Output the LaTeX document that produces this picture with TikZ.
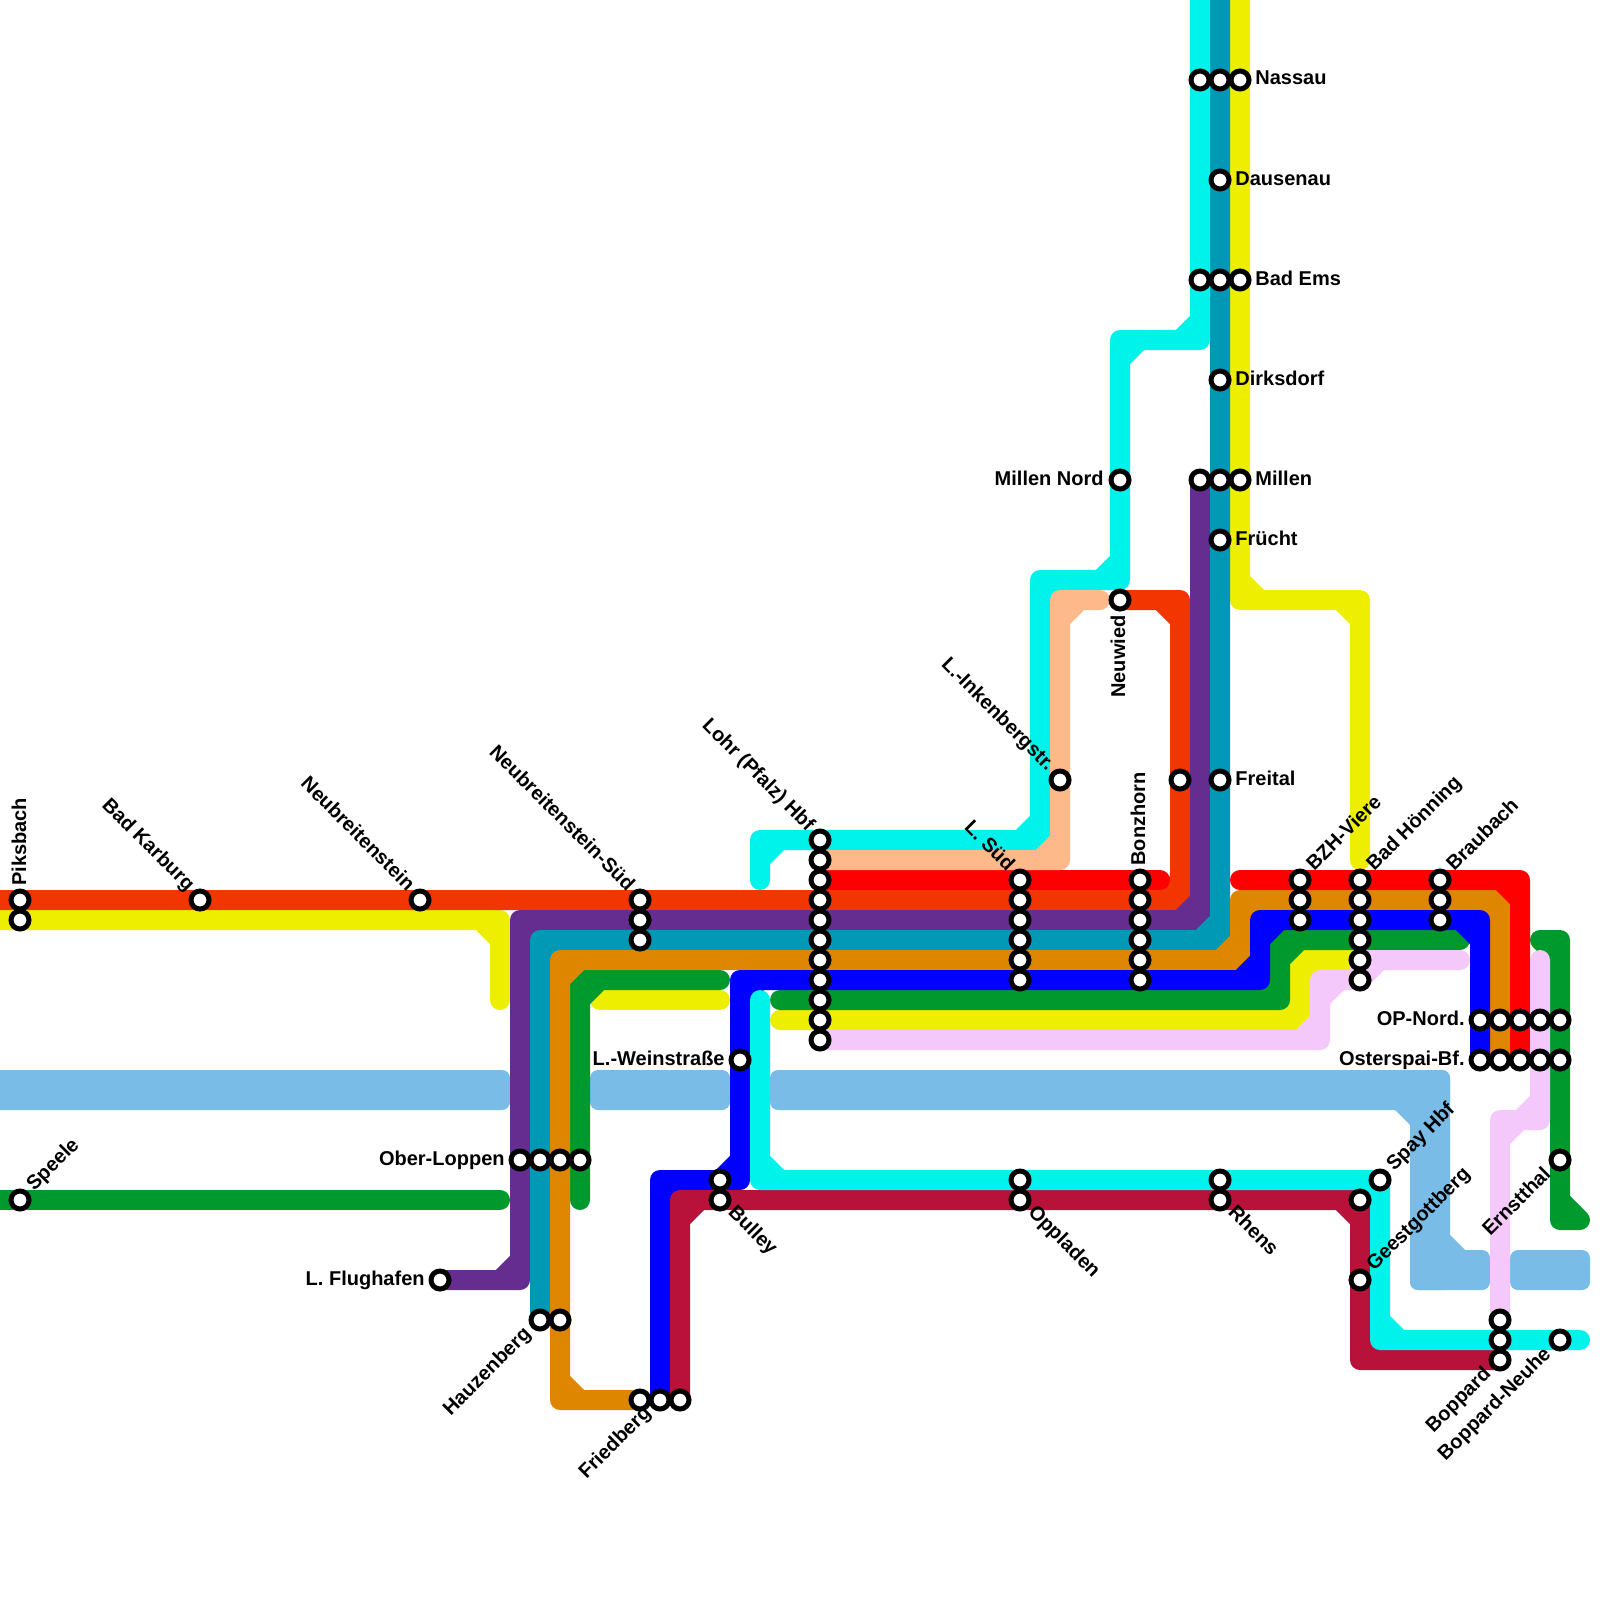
\documentclass[tikz,border=0pt]{standalone}
\usepackage{fontspec}
\setmainfont{Liberation Sans}
\usetikzlibrary{backgrounds}
\definecolor{Cfogo}{RGB}{243,53,2}
\definecolor{Cred}{RGB}{255,0,0}
\definecolor{Cpurple}{RGB}{102,45,145}
\definecolor{Cteal}{RGB}{0,153,181}
\definecolor{Corange}{RGB}{223,134,0}
\definecolor{Cblue}{RGB}{0,0,255}
\definecolor{Cgreen}{RGB}{0,153,46}
\definecolor{Cyellow}{RGB}{238,238,0}
\definecolor{Cmauve}{RGB}{245,200,251}
\definecolor{Criver}{RGB}{122,188,232}
\definecolor{Ccyan}{RGB}{0,243,235}
\definecolor{Cpeach}{RGB}{253,185,138}
\definecolor{Ccrimson}{RGB}{185,18,58}
% inner cut of a bend: corner x,y and the way each leg runs
\newcommand{\kink}[4]{(#1,#2) ++(#3,0) -- ++(-#3,#4)}
\tikzset{
  ln/.style={line width=10pt, line cap=round, line join=round},
  river/.style={fill=Criver, rounded corners=4pt},
  stn/.style={circle, draw=black, fill=white, line width=2.5pt, inner sep=0pt, minimum size=9pt},
  lbl/.style={font=\bfseries, inner sep=0pt, text=black},
  lblr/.style={lbl, anchor=base west},
  lbll/.style={lbl, anchor=base east},
}
\begin{document}
\begin{tikzpicture}[x=0.5pt, y=-0.5pt]
  \useasboundingbox (0,0) rectangle (1600,1600);
  % Free ends of the lines
  \coordinate (fogowest) at (-20,900);
  \coordinate (tealtop) at (1220,-20);
  \coordinate (redmid) at (1160,880);
  \coordinate (redeast) at (1240,880);
  \coordinate (yelwest) at (-20,920);
  \coordinate (yelfoot) at (500,1000);
  \coordinate (yelshorta) at (600,1000);
  \coordinate (yelshortb) at (720,1000);
  \coordinate (yellonga) at (780,1020);
  \coordinate (yeltop) at (1240,-20);
  \coordinate (yelbzh) at (1360,860);
  \coordinate (grnwest) at (-20,1200);
  \coordinate (grnwestend) at (500,1200);
  \coordinate (grnfoot) at (580,1200);
  \coordinate (grnshort) at (720,980);
  \coordinate (grnlonga) at (780,1000);
  \coordinate (grnlongb) at (1460,940);
  \coordinate (grnhook) at (1540,940);
  \coordinate (grnend) at (1580,1220);
  \coordinate (mauveend) at (1460,960);
  \coordinate (mauvehook) at (1540,960);
  \coordinate (cyanlow) at (760,1000);
  \coordinate (cyaneast) at (1580,1340);
  \coordinate (cyantop) at (1200,-20);
  \coordinate (cyanend) at (760,880);
  \coordinate (peachend) at (1100,600);
  % Stations
  \node[stn] (piksa) at (20,900) {};
  \node[stn] (piksb) at (20,920) {};
  \node[stn] (karburg) at (200,900) {};
  \node[stn] (neubr) at (420,900) {};
  \node[stn] (suda) at (640,900) {};
  \node[stn] (sudb) at (640,920) {};
  \node[stn] (sudc) at (640,940) {};
  \node[stn] (lohra) at (820,840) {};
  \node[stn] (lohrb) at (820,860) {};
  \node[stn] (lohrc) at (820,880) {};
  \node[stn] (lohrd) at (820,900) {};
  \node[stn] (lohre) at (820,920) {};
  \node[stn] (lohrf) at (820,940) {};
  \node[stn] (lohrg) at (820,960) {};
  \node[stn] (lohrh) at (820,980) {};
  \node[stn] (lohri) at (820,1000) {};
  \node[stn] (lohrj) at (820,1020) {};
  \node[stn] (lohrk) at (820,1040) {};
  \node[stn] (lsuda) at (1020,880) {};
  \node[stn] (lsudb) at (1020,900) {};
  \node[stn] (lsudc) at (1020,920) {};
  \node[stn] (lsudd) at (1020,940) {};
  \node[stn] (lsude) at (1020,960) {};
  \node[stn] (lsudf) at (1020,980) {};
  \node[stn] (bonza) at (1140,880) {};
  \node[stn] (bonzb) at (1140,900) {};
  \node[stn] (bonzc) at (1140,920) {};
  \node[stn] (bonzd) at (1140,940) {};
  \node[stn] (bonze) at (1140,960) {};
  \node[stn] (bonzf) at (1140,980) {};
  \node[stn] (inkenb) at (1060,780) {};
  \node[stn] (neuwied) at (1120,600) {};
  \node[stn] (millennord) at (1120,480) {};
  \node[stn] (nassaua) at (1200,80) {};
  \node[stn] (nassaub) at (1220,80) {};
  \node[stn] (nassauc) at (1240,80) {};
  \node[stn] (dausenau) at (1220,180) {};
  \node[stn] (emsa) at (1200,280) {};
  \node[stn] (emsb) at (1220,280) {};
  \node[stn] (emsc) at (1240,280) {};
  \node[stn] (dirksdorf) at (1220,380) {};
  \node[stn] (millena) at (1200,480) {};
  \node[stn] (millenb) at (1220,480) {};
  \node[stn] (millenc) at (1240,480) {};
  \node[stn] (fruecht) at (1220,540) {};
  \node[stn] (freitala) at (1180,780) {};
  \node[stn] (freitalb) at (1220,780) {};
  \node[stn] (bzha) at (1300,880) {};
  \node[stn] (bzhb) at (1300,900) {};
  \node[stn] (bzhc) at (1300,920) {};
  \node[stn] (hoena) at (1360,880) {};
  \node[stn] (hoenb) at (1360,900) {};
  \node[stn] (hoenc) at (1360,920) {};
  \node[stn] (hoend) at (1360,940) {};
  \node[stn] (hoene) at (1360,960) {};
  \node[stn] (hoenf) at (1360,980) {};
  \node[stn] (brauba) at (1440,880) {};
  \node[stn] (braubb) at (1440,900) {};
  \node[stn] (braubc) at (1440,920) {};
  \node[stn] (opa) at (1480,1020) {};
  \node[stn] (opb) at (1500,1020) {};
  \node[stn] (opc) at (1520,1020) {};
  \node[stn] (opd) at (1540,1020) {};
  \node[stn] (ope) at (1560,1020) {};
  \node[stn] (ostera) at (1480,1060) {};
  \node[stn] (osterb) at (1500,1060) {};
  \node[stn] (osterc) at (1520,1060) {};
  \node[stn] (osterd) at (1540,1060) {};
  \node[stn] (ostere) at (1560,1060) {};
  \node[stn] (ernst) at (1560,1160) {};
  \node[stn] (spay) at (1380,1180) {};
  \node[stn] (spayb) at (1360,1200) {};
  \node[stn] (geest) at (1360,1280) {};
  \node[stn] (boppa) at (1500,1320) {};
  \node[stn] (boppb) at (1500,1340) {};
  \node[stn] (boppc) at (1500,1360) {};
  \node[stn] (neuhe) at (1560,1340) {};
  \node[stn] (rhensa) at (1220,1180) {};
  \node[stn] (rhensb) at (1220,1200) {};
  \node[stn] (oppa) at (1020,1180) {};
  \node[stn] (oppb) at (1020,1200) {};
  \node[stn] (bulla) at (720,1180) {};
  \node[stn] (bullb) at (720,1200) {};
  \node[stn] (frieda) at (640,1400) {};
  \node[stn] (friedb) at (660,1400) {};
  \node[stn] (friedc) at (680,1400) {};
  \node[stn] (hauza) at (540,1320) {};
  \node[stn] (hauzb) at (560,1320) {};
  \node[stn] (flughafen) at (440,1280) {};
  \node[stn] (obera) at (520,1160) {};
  \node[stn] (oberb) at (540,1160) {};
  \node[stn] (oberc) at (560,1160) {};
  \node[stn] (oberd) at (580,1160) {};
  \node[stn] (weinstr) at (740,1060) {};
  \node[stn] (speele) at (20,1200) {};
  % Lines, under the stations
  \begin{scope}[on background layer]
    % River bands
    \fill[river] (-40,1070) rectangle (510,1110);
    \fill[river] (590,1070) rectangle (730,1110);
    \fill[river] (770,1070) rectangle (1450,1110);
    \fill[river] (1410,1070) rectangle (1450,1290);
    \fill[river] (1410,1250) rectangle (1490,1290);
    \fill[Criver] (1410,1110) -- (1395,1110) -- (1410,1125) -- cycle;
    \fill[Criver] (1450,1250) -- (1450,1235) -- (1465,1250) -- cycle;
    \fill[river] (1510,1250) rectangle (1590,1290);
    % Yellow
    \draw[ln, Cyellow] (yelwest) -- (500,920) -- (yelfoot) \kink{500}{920}{-20}{20};
    \draw[ln, Cyellow] (yelshorta) -- (yelshortb);
    \draw[ln, Cyellow] (yellonga) -- (1300,1020) -- (1300,960) -- (hoene.center)
      \kink{1300}{1020}{-20}{-20} \kink{1300}{960}{20}{20};
    \draw[ln, Cyellow] (yeltop) -- (1240,600) -- (1360,600) -- (yelbzh)
      \kink{1240}{600}{20}{-20} \kink{1360}{600}{-20}{20};
    % Green
    \draw[ln, Cgreen] (grnwest) -- (grnwestend);
    \draw[ln, Cgreen] (grnfoot) -- (580,980) -- (grnshort) \kink{580}{980}{20}{20};
    \draw[ln, Cgreen] (grnlonga) -- (1280,1000) -- (1280,940) -- (grnlongb)
      \kink{1280}{1000}{-20}{-20} \kink{1280}{940}{20}{20};
    \draw[ln, Cgreen] (grnhook) -- (1560,940) -- (1560,1220) -- (grnend)
      \kink{1560}{940}{-20}{20} \kink{1560}{1220}{20}{-20};
    % Long lines
    \draw[ln, Cfogo] (fogowest) -- (1180,900) -- (1180,600) -- (neuwied.center)
      \kink{1180}{900}{-20}{-20} \kink{1180}{600}{-20}{20};
    \draw[ln, Cpurple] (flughafen.center) -- (520,1280) -- (520,920) -- (1200,920) -- (millena.center)
      \kink{520}{1280}{-20}{-20} \kink{520}{920}{20}{20} \kink{1200}{920}{-20}{-20};
    \draw[ln, Cteal] (hauza.center) -- (540,940) -- (1220,940) -- (tealtop)
      \kink{540}{940}{20}{20} \kink{1220}{940}{-20}{-20};
    \draw[ln, Corange] (frieda.center) -- (560,1400) -- (560,960) -- (1240,960) -- (1240,900)
      -- (1500,900) -- (osterb.center)
      \kink{560}{1400}{20}{-20} \kink{560}{960}{20}{20} \kink{1240}{960}{-20}{-20}
      \kink{1240}{900}{20}{20} \kink{1500}{900}{-20}{20};
    \draw[ln, Cred] (lohrc.center) -- (redmid);
    \draw[ln, Cred] (redeast) -- (1520,880) -- (osterc.center) \kink{1520}{880}{-20}{20};
    % Blue
    \draw[ln, Cblue] (friedb.center) -- (660,1180) -- (740,1180) -- (740,980) -- (1260,980)
      -- (1260,920) -- (1480,920) -- (ostera.center)
      \kink{660}{1180}{20}{20} \kink{740}{1180}{-20}{-20} \kink{740}{980}{20}{20}
      \kink{1260}{980}{-20}{-20} \kink{1260}{920}{20}{20} \kink{1480}{920}{-20}{20};
    % Mauve
    \draw[ln, Cmauve] (lohrk.center) -- (1320,1040) -- (1320,980) -- (1360,980) -- (1360,960) -- (mauveend)
      \kink{1320}{1040}{-20}{-20} \kink{1320}{980}{20}{20} \kink{1360}{960}{20}{20};
    \draw[ln, Cmauve] (mauvehook) -- (1540,1120) -- (1500,1120) -- (boppa.center)
      \kink{1540}{1120}{-20}{-20} \kink{1500}{1120}{20}{20};
    % Crimson and cyan
    \draw[ln, Ccrimson] (friedc.center) -- (680,1200) -- (1360,1200) -- (1360,1360) -- (boppc.center)
      \kink{680}{1200}{20}{20} \kink{1360}{1200}{-20}{20} \kink{1360}{1360}{20}{-20};
    \draw[ln, Ccyan] (cyanlow) -- (760,1180) -- (1380,1180) -- (1380,1340) -- (cyaneast)
      \kink{760}{1180}{20}{-20} \kink{1380}{1180}{-20}{20} \kink{1380}{1340}{20}{-20};
    \draw[ln, Ccyan] (cyantop) -- (1200,340) -- (1120,340) -- (1120,580) -- (1040,580) -- (1040,840)
      -- (760,840) -- (cyanend)
      \kink{1200}{340}{-20}{-20} \kink{1120}{340}{20}{20} \kink{1120}{580}{-20}{-20}
      \kink{1040}{580}{20}{20} \kink{1040}{840}{-20}{-20} \kink{760}{840}{20}{20};
    \draw[ln, Cpeach] (lohrb.center) -- (1060,860) -- (1060,600) -- (peachend)
      \kink{1060}{860}{-20}{-20} \kink{1060}{600}{20}{20};
  \end{scope}
  % Names right of the stations
  \node[lblr] (nassaut) at (1255,85) {Nassau};
  \node[lblr] (dausenaut) at (1235,185) {Dausenau};
  \node[lblr] (emst) at (1255,285) {Bad Ems};
  \node[lblr] (dirksdorft) at (1235,385) {Dirksdorf};
  \node[lblr] (millent) at (1255,485) {Millen};
  \node[lblr] (fruechtt) at (1235,545) {Frücht};
  \node[lblr] (freitalt) at (1235,785) {Freital};
  % Names left of the stations
  \node[lbll] (millennordt) at (1104,485) {Millen Nord};
  \node[lbll] (weinstrt) at (725,1065) {L.-Weinstraße};
  \node[lbll] (obert) at (505,1165) {Ober-Loppen};
  \node[lbll] (flughafent) at (425,1285) {L. Flughafen};
  \node[lbll] (opt) at (1465,1025) {OP-Nord.};
  \node[lbll] (ostert) at (1465,1065) {Osterspai-Bf.};
  % Upright names
  \node[lblr, rotate=90] (pikst) at (26,886) {Piksbach};
  \node[lblr, rotate=90] (bonzt) at (1145,866) {Bonzhorn};
  \node[lbll, rotate=90] (neuwiedt) at (1125,615) {Neuwied};
  % Slanted names
  \node[lbll, rotate=-45] (karburgt) at (187,892) {Bad Karburg};
  \node[lbll, rotate=-45] (neubrt) at (407,892) {Neubreitenstein};
  \node[lbll, rotate=-45] (sudt) at (627,892) {Neubreitenstein-Süd};
  \node[lbll, rotate=-45] (lohrt) at (807,832) {Lohr (Pfalz) Hbf};
  \node[lbll, rotate=-45] (lsudt) at (1007,872) {L. Süd};
  \node[lbll, rotate=-45] (inkenbt) at (1047,772) {L.-Inkenbergstr.};
  \node[lblr, rotate=45] (speelet) at (34,1192) {Speele};
  \node[lblr, rotate=45] (bzht) at (1314,872) {BZH-Viere};
  \node[lblr, rotate=45] (hoent) at (1374,872) {Bad Hönning};
  \node[lblr, rotate=45] (braubt) at (1454,872) {Braubach};
  \node[lblr, rotate=45] (spayt) at (1394,1172) {Spay Hbf};
  \node[lblr, rotate=45] (geestt) at (1374,1272) {Geestgottberg};
  \node[lblr, rotate=-45] (bullt) at (727,1213) {Bulley};
  \node[lblr, rotate=-45] (oppt) at (1027,1213) {Oppladen};
  \node[lblr, rotate=-45] (rhenst) at (1227,1213) {Rhens};
  \node[lbll, rotate=45] (hauzt) at (532,1335) {Hauzenberg};
  \node[lbll, rotate=45] (friedt) at (652,1414) {Friedberg};
  \node[lbll, rotate=45] (boppt) at (1492,1375) {Boppard};
  \node[lbll, rotate=45] (neuhet) at (1552,1355) {Boppard-Neuhe};
  \node[lbll, rotate=45] (ernstt) at (1552,1175) {Ernstthal};
\end{tikzpicture}
\end{document}
